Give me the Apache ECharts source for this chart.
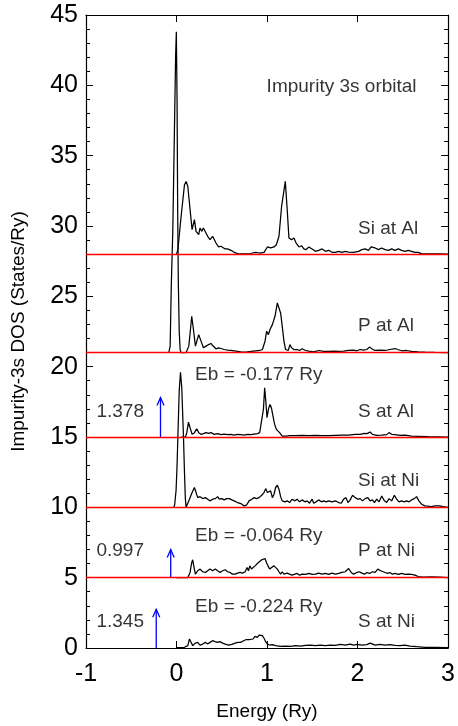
<!DOCTYPE html>
<html>
<head>
<meta charset="utf-8">
<script src="https://cdn.jsdelivr.net/npm/echarts@6/dist/echarts.min.js"></script>
<style>
  html, body { margin: 0; padding: 0; background: #fff; }
  #chart { width: 458px; height: 726px; }
</style>
</head>
<body>
<div id="chart"></div>
<script>
// impurity 3s DOS, [energy (Ry), DOS above its own baseline]
const siAl = [[0.0,0],[0.015,0.32],[0.051,2.69],[0.088,4.93],[0.106,5.17],[0.125,4.81],[0.150,3.16],[0.172,1.74],[0.198,2.45],[0.216,1.62],[0.245,1.38],[0.260,1.86],[0.278,1.62],[0.297,1.86],[0.319,1.86],[0.344,1.27],[0.370,1.03],[0.399,1.27],[0.418,1.15],[0.436,0.79],[0.465,0.51],[0.491,0.56],[0.509,0.44],[0.538,0.37],[0.564,0.37],[0.601,0.27],[0.637,0.13],[0.692,0.01],[0.747,0.01],[0.802,0.01],[0.839,0.08],[0.875,0.13],[0.912,0.08],[0.967,0.13],[1.004,0.51],[1.040,0.44],[1.077,0.51],[1.103,0.67],[1.132,1.27],[1.161,3.39],[1.179,3.51],[1.202,5.17],[1.223,3.16],[1.242,1.15],[1.271,1.03],[1.297,1.15],[1.322,0.79],[1.352,0.51],[1.381,0.60],[1.407,0.37],[1.432,0.32],[1.462,0.51],[1.498,0.37],[1.535,0.20],[1.571,0.27],[1.608,0.37],[1.645,0.20],[1.681,0.27],[1.718,0.13],[1.755,0.13],[1.791,0.20],[1.828,0.13],[1.864,0.20],[1.901,0.15],[1.956,0.13],[2.011,0.20],[2.048,0.32],[2.084,0.37],[2.121,0.27],[2.150,0.51],[2.165,0.37],[2.194,0.44],[2.231,0.32],[2.267,0.44],[2.304,0.32],[2.341,0.27],[2.377,0.37],[2.414,0.27],[2.451,0.37],[2.487,0.27],[2.524,0.20],[2.560,0.27],[2.597,0.20],[2.634,0.13],[2.652,0.01],[2.670,0.13],[2.707,0.04],[2.780,0.01],[2.927,0.01],[3.0,0]];

const pAl = [[-0.085,0],[-0.07,0.5],[-0.058,4.7],[-0.041,8.7],[-0.025,15],[-0.01,21],[-0.002,22.8],[0.006,18],[0.013,10],[0.02,5],[0.03,1.5],[0.04,0.2],[0.05,0],[0.106,0],[0.136,0.46],[0.154,1.64],[0.168,2.58],[0.187,1.64],[0.209,0.46],[0.223,0.57],[0.245,1.28],[0.260,1.36],[0.278,0.69],[0.297,0.34],[0.326,0.46],[0.355,0.57],[0.381,0.65],[0.399,0.50],[0.436,0.27],[0.465,0.34],[0.491,0.29],[0.527,0.22],[0.564,0.17],[0.601,0.15],[0.656,0.10],[0.711,0.05],[0.766,0.03],[0.821,0.08],[0.875,0.13],[0.919,0.15],[0.949,0.22],[0.978,0.81],[0.996,1.52],[1.015,1.28],[1.033,1.64],[1.059,1.99],[1.088,2.58],[1.114,3.53],[1.128,3.65],[1.150,2.82],[1.168,1.88],[1.187,0.81],[1.205,0.22],[1.234,0.15],[1.253,0.57],[1.271,0.34],[1.297,0.22],[1.315,0.10],[1.333,0.22],[1.359,0.15],[1.388,0.27],[1.425,0.15],[1.462,0.10],[1.516,0.05],[1.571,0.15],[1.626,0.08],[1.681,0.08],[1.736,0.10],[1.791,0.08],[1.846,0.10],[1.901,0.15],[1.956,0.17],[1.993,0.13],[2.029,0.22],[2.066,0.17],[2.103,0.22],[2.132,0.39],[2.158,0.27],[2.194,0.15],[2.249,0.17],[2.304,0.15],[2.359,0.22],[2.414,0.29],[2.443,0.22],[2.487,0.13],[2.542,0.15],[2.597,0.08],[2.670,0.05],[2.744,0.03],[2.853,0.01],[3.0,0]];

const sAl = [[0.05,0],[0.099,0],[0.114,0.31],[0.132,1.06],[0.150,0.66],[0.172,0.19],[0.198,0.31],[0.223,0.59],[0.245,0.31],[0.271,0.19],[0.297,0.24],[0.326,0.31],[0.355,0.26],[0.381,0.31],[0.418,0.19],[0.454,0.24],[0.491,0.17],[0.527,0.21],[0.564,0.17],[0.601,0.19],[0.637,0.14],[0.674,0.19],[0.711,0.17],[0.747,0.14],[0.784,0.19],[0.821,0.17],[0.857,0.21],[0.894,0.24],[0.919,0.31],[0.941,0.43],[0.960,1.96],[0.974,3.50],[0.985,2.67],[1.000,1.37],[1.015,1.96],[1.033,2.32],[1.048,2.08],[1.066,1.49],[1.084,0.90],[1.103,0.54],[1.121,0.43],[1.139,0.31],[1.168,0.07],[1.205,0.07],[1.260,0.09],[1.315,0.09],[1.388,0.12],[1.462,0.09],[1.535,0.12],[1.608,0.09],[1.681,0.09],[1.755,0.12],[1.828,0.14],[1.901,0.14],[1.974,0.19],[2.029,0.19],[2.077,0.26],[2.103,0.24],[2.139,0.35],[2.165,0.19],[2.212,0.12],[2.267,0.14],[2.322,0.17],[2.348,0.31],[2.377,0.19],[2.414,0.17],[2.469,0.12],[2.524,0.14],[2.597,0.07],[2.670,0.05],[2.780,0.02],[3.0,0]];

const siNi = [[-0.03,0],[-0.02,0.2],[-0.005,1.2],[0.005,2.8],[0.015,5],[0.03,8.3],[0.044,9.6],[0.058,8.5],[0.077,5],[0.088,2.5],[0.098,0.6],[0.106,0],[0.143,0.58],[0.172,1.05],[0.198,1.41],[0.216,1.05],[0.234,0.69],[0.260,0.76],[0.289,0.62],[0.319,0.69],[0.344,0.58],[0.370,0.46],[0.399,0.58],[0.429,0.62],[0.454,0.76],[0.473,0.58],[0.502,0.62],[0.527,0.53],[0.553,0.62],[0.582,0.62],[0.612,0.53],[0.637,0.46],[0.674,0.34],[0.711,0.27],[0.747,0.10],[0.773,0.15],[0.802,0.46],[0.832,0.58],[0.857,0.69],[0.883,0.62],[0.912,0.69],[0.941,0.86],[0.967,1.05],[0.985,1.33],[1.004,1.05],[1.022,0.93],[1.040,1.17],[1.059,0.69],[1.077,0.93],[1.095,1.41],[1.114,1.57],[1.132,1.29],[1.150,0.76],[1.168,0.46],[1.198,0.39],[1.223,0.46],[1.249,0.34],[1.278,0.58],[1.308,0.46],[1.333,0.58],[1.359,0.39],[1.388,0.53],[1.418,0.39],[1.443,0.46],[1.469,0.29],[1.498,0.58],[1.516,0.29],[1.542,0.39],[1.571,0.53],[1.601,0.39],[1.626,0.46],[1.652,0.39],[1.681,0.46],[1.718,0.39],[1.755,0.46],[1.791,0.34],[1.821,0.29],[1.846,0.58],[1.872,0.69],[1.894,0.34],[1.919,0.53],[1.945,0.86],[1.974,0.69],[2.004,0.58],[2.029,0.62],[2.055,0.46],[2.084,0.62],[2.114,0.69],[2.139,0.46],[2.165,0.53],[2.187,0.34],[2.212,0.58],[2.238,0.39],[2.267,0.81],[2.297,0.46],[2.322,0.34],[2.348,0.62],[2.377,0.46],[2.407,0.86],[2.432,0.58],[2.458,0.39],[2.487,0.46],[2.516,0.39],[2.542,0.46],[2.568,0.39],[2.597,0.53],[2.626,0.62],[2.652,0.76],[2.678,0.46],[2.707,0.22],[2.744,0.10],[2.817,0.05],[2.853,0.10],[2.908,0.10],[2.945,0.05],[3.0,0]];

const pNi = [[0.0,0],[0.125,0.01],[0.150,0.37],[0.168,1.08],[0.179,1.27],[0.194,0.72],[0.209,0.25],[0.234,0.49],[0.260,0.61],[0.289,0.42],[0.319,0.37],[0.344,0.49],[0.370,0.61],[0.399,0.49],[0.429,0.61],[0.454,0.49],[0.480,0.37],[0.509,0.49],[0.538,0.56],[0.564,0.42],[0.590,0.37],[0.619,0.25],[0.648,0.25],[0.674,0.32],[0.700,0.37],[0.729,0.32],[0.758,0.42],[0.780,0.72],[0.795,0.49],[0.810,0.84],[0.828,0.61],[0.846,0.65],[0.868,0.84],[0.886,0.72],[0.905,1.08],[0.923,0.96],[0.941,1.27],[0.960,1.19],[0.978,1.36],[0.993,1.08],[1.011,0.84],[1.029,0.61],[1.051,0.72],[1.077,0.84],[1.095,0.96],[1.114,0.61],[1.132,0.42],[1.150,0.25],[1.168,0.42],[1.187,0.25],[1.205,0.18],[1.223,0.32],[1.249,0.25],[1.278,0.18],[1.308,0.25],[1.333,0.30],[1.359,0.18],[1.388,0.25],[1.425,0.23],[1.462,0.30],[1.498,0.23],[1.535,0.25],[1.571,0.32],[1.608,0.25],[1.645,0.30],[1.681,0.23],[1.718,0.32],[1.755,0.25],[1.791,0.30],[1.828,0.37],[1.864,0.42],[1.901,0.65],[1.930,0.37],[1.956,0.25],[1.993,0.37],[2.018,0.42],[2.048,0.32],[2.077,0.25],[2.103,0.37],[2.132,0.30],[2.165,0.42],[2.194,0.37],[2.224,0.61],[2.238,0.72],[2.256,0.49],[2.275,0.42],[2.304,0.37],[2.333,0.30],[2.359,0.37],[2.385,0.25],[2.414,0.30],[2.451,0.23],[2.487,0.30],[2.524,0.23],[2.560,0.25],[2.597,0.23],[2.634,0.18],[2.670,0.08],[2.725,0.04],[2.817,0.06],[2.908,0.04],[3.0,0.01]];

const sNi = [[0.0,0.02],[0.088,0.05],[0.125,0.17],[0.143,0.64],[0.158,0.45],[0.179,0.17],[0.209,0.35],[0.234,0.40],[0.260,0.21],[0.289,0.28],[0.319,0.40],[0.344,0.28],[0.370,0.40],[0.399,0.52],[0.425,0.45],[0.454,0.40],[0.480,0.45],[0.509,0.35],[0.538,0.28],[0.575,0.21],[0.612,0.26],[0.648,0.35],[0.678,0.40],[0.707,0.40],[0.736,0.50],[0.766,0.59],[0.784,0.69],[0.802,0.59],[0.824,0.73],[0.846,0.64],[0.868,0.83],[0.894,0.76],[0.912,0.92],[0.930,0.99],[0.949,0.88],[0.967,0.69],[0.985,0.45],[1.004,0.28],[1.029,0.21],[1.059,0.24],[1.095,0.17],[1.150,0.12],[1.205,0.14],[1.260,0.12],[1.315,0.17],[1.370,0.14],[1.425,0.19],[1.480,0.21],[1.535,0.17],[1.590,0.21],[1.645,0.17],[1.700,0.21],[1.755,0.19],[1.810,0.26],[1.864,0.21],[1.919,0.28],[1.956,0.21],[1.993,0.26],[2.048,0.21],[2.103,0.24],[2.139,0.35],[2.158,0.28],[2.194,0.21],[2.249,0.26],[2.304,0.21],[2.359,0.24],[2.414,0.19],[2.469,0.17],[2.524,0.21],[2.579,0.14],[2.652,0.09],[2.744,0.05],[2.853,0.05],[3.0,0.02]];

const curves = [siAl, pAl, sAl, siNi, pNi, sNi];
const names = ['Si at Al', 'P at Al', 'S at Al', 'Si at Ni', 'P at Ni', 'S at Ni'];
const offsets = [28, 21, 15, 10, 5, 0];

// bound states below the band: [energy, baseline, arrow top]
const arrows = [[-0.177, 15, 17.8], [-0.064, 5, 7.0], [-0.224, 0, 2.75]];
const weights = ['1.378', '0.997', '1.345'];
const ebTexts = ['Eb = -0.177 Ry', 'Eb = -0.064 Ry', 'Eb = -0.224 Ry'];

// label anchors (data coords)
const nameLabelPos = [[2.0, 29.8], [2.0, 22.9], [2.0, 16.8], [2.0, 11.9], [2.0, 6.9], [2.0, 1.9]];
const ebLabelPos = [[0.2, 19.4], [0.2, 7.95], [0.2, 2.9]];
const weightLabelPos = [[-0.89, 16.8], [-0.89, 6.9], [-0.89, 1.9]];
const titleLabel = { text: 'Impurity 3s orbital', pos: [0.99, 39.9] };

const font = 'Liberation Sans';

const labelData = [];
names.forEach((n, i) => labelData.push({ name: n, value: nameLabelPos[i] }));
ebTexts.forEach((n, i) => labelData.push({ name: n, value: ebLabelPos[i] }));
weights.forEach((n, i) => labelData.push({ name: n, value: weightLabelPos[i] }));
labelData.push({ name: titleLabel.text, value: titleLabel.pos });

const series = curves.map((c, i) => ({
  name: names[i],
  type: 'line',
  data: c.map(p => [p[0], p[1] + offsets[i]]),
  showSymbol: false,
  symbol: 'none',
  lineStyle: { color: '#000', width: 1.25 },
  z: 3,
  animation: false
}));

// red baselines
series.push({
  type: 'line',
  data: [],
  z: 2,
  markLine: {
    silent: true,
    symbol: 'none',
    label: { show: false },
    lineStyle: { color: '#ff0000', width: 1.3, type: 'solid' },
    data: offsets.filter(o => o > 0).map(o => ({ yAxis: o }))
  },
  animation: false
});

series.push({
  type: 'custom',
  data: arrows,
  encode: { x: 0, y: [1, 2] },
  z: 4,
  renderItem: function (params, api) {
    const p0 = api.coord([api.value(0), api.value(1)]);
    const p1 = api.coord([api.value(0), api.value(2)]);
    return {
      type: 'group',
      children: [
        { type: 'line', shape: { x1: p0[0], y1: p0[1], x2: p1[0], y2: p1[1] },
          style: { stroke: '#0000ff', lineWidth: 1.3 } },
        { type: 'polyline', shape: { points: [[p1[0] - 3.5, p1[1] + 8], [p1[0], p1[1]], [p1[0] + 3.5, p1[1] + 8]] },
          style: { stroke: '#0000ff', fill: null, lineWidth: 1.3 } }
      ]
    };
  },
  animation: false
});

series.push({
  type: 'scatter',
  data: labelData,
  symbolSize: 1,
  itemStyle: { color: 'rgba(0,0,0,0)' },
  label: {
    show: true,
    formatter: '{b}',
    position: 'right',
    distance: 0,
    color: '#000',
    fontSize: 19,
    fontFamily: font
  },
  silent: true,
  z: 5,
  animation: false
});

const tickStyle = { color: '#000', width: 1 };

const option = {
  backgroundColor: '#fff',
  animation: false,
  grid: { left: 86, right: 8, top: 15, bottom: 77 },
  xAxis: [{
    type: 'value', position: 'bottom', min: -1, max: 3, interval: 1,
    name: 'Energy (Ry)', nameLocation: 'middle', nameGap: 54,
    nameTextStyle: { color: '#000', fontSize: 19, fontFamily: font },
    axisLine: { onZero: false, lineStyle: { color: '#000', width: 1.2 } },
    axisTick: { inside: true, length: 7, lineStyle: tickStyle },
    axisLabel: { color: '#000', fontSize: 25, fontFamily: font, margin: 14 },
    splitLine: { show: false }
  }, {
    type: 'value', position: 'top', min: -1, max: 3, interval: 1,
    axisLine: { onZero: false, lineStyle: { color: '#000', width: 1.2 } },
    axisTick: { inside: true, length: 7, lineStyle: tickStyle },
    axisLabel: { show: false },
    splitLine: { show: false }
  }],
  yAxis: [{
    type: 'value', position: 'left', min: 0, max: 45, interval: 5,
    name: 'Impurity-3s DOS (States/Ry)', nameLocation: 'middle', nameGap: 58, nameRotate: 90,
    nameTextStyle: { color: '#000', fontSize: 19, fontFamily: font },
    axisLine: { show: true, onZero: false, lineStyle: { color: '#000', width: 1.2 } },
    axisTick: { show: true, inside: true, length: 7, lineStyle: tickStyle },
    minorTick: { show: true, splitNumber: 5, length: 4, lineStyle: tickStyle },
    axisLabel: { color: '#000', fontSize: 25, fontFamily: font, margin: 8 },
    splitLine: { show: false }
  }, {
    type: 'value', position: 'right', min: 0, max: 45, interval: 5,
    axisLine: { show: true, onZero: false, lineStyle: { color: '#000', width: 1.2 } },
    axisTick: { show: true, inside: true, length: 7, lineStyle: tickStyle },
    minorTick: { show: true, splitNumber: 5, length: 4, lineStyle: tickStyle },
    axisLabel: { show: false },
    splitLine: { show: false }
  }],
  series: series
};

const chart = echarts.init(document.getElementById('chart'));
chart.setOption(option);
</script>
</body>
</html>
